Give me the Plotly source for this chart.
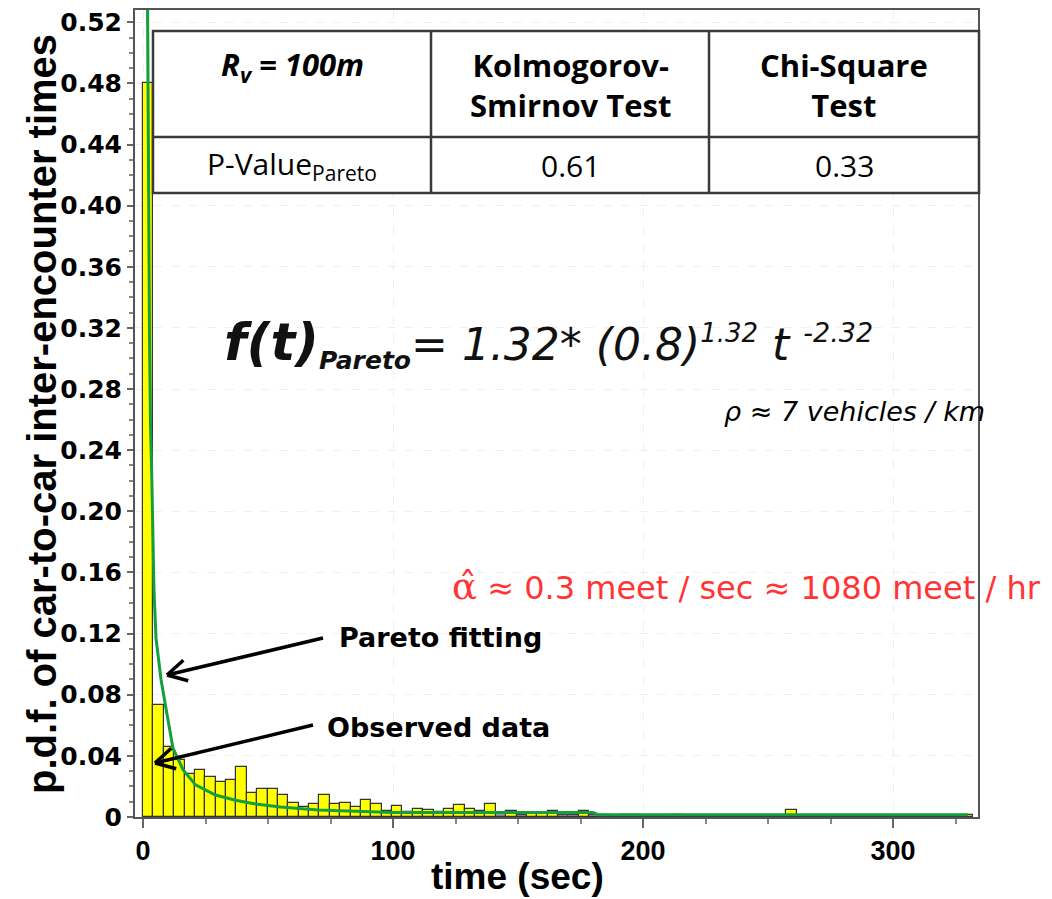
import math
import plotly.graph_objects as go

# ---------------- data ----------------
bin_width = 4.15  # seconds per histogram bin
observed_pdf = [
    0.48, 0.073, 0.046, 0.037, 0.028, 0.031, 0.026, 0.023, 0.024, 0.033,
    0.016, 0.0186, 0.0186, 0.0142, 0.0094, 0.0066, 0.0087, 0.0142, 0.0087, 0.0094,
    0.0066, 0.011, 0.0087, 0.004, 0.007, 0.003, 0.005, 0.0046, 0.0033, 0.005,
    0.0077, 0.005, 0.004, 0.0087, 0.0, 0.004, 0.0, 0.002, 0.002, 0.004,
    0.0, 0.0, 0.004, 0.0, 0.0012, 0.0, 0.0012, 0.0012, 0.0, 0.0,
    0.0, 0.0012, 0.0, 0.0, 0.0, 0.0, 0.0, 0.0, 0.0, 0.0,
    0.0, 0.0, 0.0046, 0.0, 0.0, 0.0, 0.0, 0.0, 0.0, 0.0,
    0.0, 0.0, 0.0, 0.0, 0.0, 0.0, 0.0, 0.0, 0.0, 0.0012,
]
expected_gray = [
    0, 0, 0, 0, 0, 0, 0, 0, 0, 0,
    0, 0, 0, 0, 0, 0, 0, 0, 0, 0,
    0, 0, 0, 0, 0, 0, 0, 0, 0, 0,
    0, 0, 0, 0, 0.002, 0, 0.0015, 0, 0, 0,
    0.0015, 0.0015, 0, 0.0015, 0, 0, 0, 0, 0, 0,
    0, 0, 0, 0, 0, 0, 0, 0, 0, 0,
    0, 0, 0, 0, 0, 0, 0, 0, 0, 0,
    0, 0, 0, 0, 0, 0, 0, 0, 0, 0,
]
fit_t = [1.5, 1.8, 2.2, 2.6, 3.0, 3.6, 4.0, 4.4, 5.2, 7.2, 9.2, 12, 16, 21, 29, 37,
         45, 55, 70, 86, 100, 140, 180, 182, 250, 330]
fit_pdf = [0.62, 0.48, 0.425, 0.313, 0.257, 0.216, 0.177, 0.148, 0.117, 0.090, 0.071,
           0.045, 0.031, 0.021, 0.0144, 0.011, 0.0085, 0.0065, 0.0045, 0.0035, 0.003,
           0.003, 0.003, 0.0015, 0.0015, 0.0015]

y_tick_vals = [0, 0.04, 0.08, 0.12, 0.16, 0.20, 0.24, 0.28, 0.32, 0.36, 0.40, 0.44, 0.48, 0.52]
y_tick_text = ['0', '0.04', '0.08', '0.12', '0.16', '0.20', '0.24', '0.28', '0.32', '0.36',
               '0.40', '0.44', '0.48', '0.52']
x_tick_vals = [0, 100, 200, 300]

table_header = ['<i><b>R<sub>v</sub> = 100m</b></i>', '<b>Kolmogorov-<br>Smirnov Test</b>',
                '<b>Chi-Square<br>Test</b>']
table_row = ['P-Value<sub>Pareto</sub>', '0.61', '0.33']

# ---------------- layout helpers ----------------
# the page adds an 8px body margin, so the figure is drawn 8px smaller and
# all reference-pixel positions are shifted by that amount
OFF = 8
W, H = 1052 - OFF, 899 - OFF
PLOT_L, PLOT_R, PLOT_T, PLOT_B = 135, 978, 10, 817   # reference pixels
L, T = PLOT_L - OFF, PLOT_T - OFF
R, B = W - (PLOT_R - OFF), H - (PLOT_B - OFF)
PW, PH = W - L - R, H - T - B


def px(x):
    return (x - PLOT_L) / PW


def py(y):
    return (PLOT_B - y) / PH


centers = [(k + 0.5) * bin_width for k in range(len(observed_pdf))]

fig = go.Figure()
fig.add_trace(go.Bar(x=centers, y=expected_gray, width=bin_width,
                     marker=dict(color='#9a9a9a', line=dict(color='#444444', width=1)),
                     showlegend=False))
fig.add_trace(go.Bar(x=centers, y=observed_pdf, width=bin_width,
                     marker=dict(color='#ffff00', line=dict(color='#333333', width=1.2)),
                     showlegend=False))
fig.add_trace(go.Scatter(x=fit_t, y=fit_pdf, mode='lines',
                         line=dict(color='#13a03c', width=3), showlegend=False))

shapes = []
ann = []

# table
tl, tr, tt, tb = 153, 979, 31, 193
tmid = 137
c1, c2 = 431, 709
shapes.append(dict(type='rect', xref='paper', yref='paper', x0=px(tl), x1=px(tr),
                   y0=py(tb), y1=py(tt), fillcolor='white',
                   line=dict(color='#3a3a3a', width=2.5), layer='above'))
shapes.append(dict(type='line', xref='paper', yref='paper', x0=px(tl), x1=px(tr),
                   y0=py(tmid), y1=py(tmid), line=dict(color='#3a3a3a', width=2.5)))
for cx in (c1, c2):
    shapes.append(dict(type='line', xref='paper', yref='paper', x0=px(cx), x1=px(cx),
                       y0=py(tt), y1=py(tb), line=dict(color='#3a3a3a', width=2.5)))

col_centers = [(tl + c1) / 2, (c1 + c2) / 2, (c2 + tr) / 2]
for i, txt in enumerate(table_header):
    ann.append(dict(x=px(col_centers[i]), y=py(66 if i == 0 else 85), xref='paper', yref='paper',
                    text=txt, showarrow=False, xanchor='center', yanchor='middle',
                    font=dict(family='Open Sans', size=31, color='black')))
for i, txt in enumerate(table_row):
    ann.append(dict(x=px(col_centers[i]), y=py(165), xref='paper', yref='paper',
                    text=txt, showarrow=False, xanchor='center', yanchor='middle',
                    font=dict(family='Open Sans', size=30, color='black')))

# formula
formula = ('<span style="font-size:52px"><b><i>f(t)</i></b></span>'
           '<sub><span style="font-size:25px"><b><i>Pareto</i></b></span></sub>'
           '<i>= 1.32* (0.8)</i><sup><span style="font-size:26px"><i>1.32</i></span></sup>'
           '<i> t </i><sup><span style="font-size:27px"><i>-2.32</i></span></sup>')
ann.append(dict(x=px(222), y=py(343), xref='paper', yref='paper', text=formula,
                showarrow=False, xanchor='left', yanchor='middle',
                font=dict(family='DejaVu Sans', size=44, color='#111111')))
ann.append(dict(x=px(722), y=py(411), xref='paper', yref='paper',
                text='<i>ρ ≈ 7 vehicles / km</i>', showarrow=False, xanchor='left',
                yanchor='middle', font=dict(family='DejaVu Sans', size=27, color='black')))
ann.append(dict(x=px(450), y=py(586), xref='paper', yref='paper',
                text='<span style="font-family:DejaVu Serif;font-size:37px">α\u0302</span> ≈ 0.3 meet / sec ≈ 1080 meet / hr',
                showarrow=False, xanchor='left', yanchor='middle',
                font=dict(family='DejaVu Sans', size=32, color='#ff3535')))
ann.append(dict(x=px(337), y=py(637), xref='paper', yref='paper', text='<b>Pareto fitting</b>',
                showarrow=False, xanchor='left', yanchor='middle',
                font=dict(family='DejaVu Sans', size=27, color='black')))
ann.append(dict(x=px(325), y=py(727), xref='paper', yref='paper', text='<b>Observed data</b>',
                showarrow=False, xanchor='left', yanchor='middle',
                font=dict(family='DejaVu Sans', size=27, color='black')))

# axis titles
ann.append(dict(x=px(42), y=py(414), xref='paper', yref='paper', textangle=-90,
                text='<b>p.d.f. of car-to-car inter-encounter times</b>', showarrow=False,
                xanchor='center', yanchor='middle',
                font=dict(family='Liberation Sans', size=40, color='black')))
ann.append(dict(x=px(517), y=py(876), xref='paper', yref='paper',
                text='<b>time (sec)</b>', showarrow=False, xanchor='center', yanchor='middle',
                font=dict(family='Liberation Sans', size=37, color='black')))


def arrow(x0, y0, x1, y1):
    shapes.append(dict(type='line', xref='paper', yref='paper', x0=px(x0), y0=py(y0),
                       x1=px(x1), y1=py(y1), line=dict(color='black', width=3.5)))
    ang = math.atan2(y0 - y1, x0 - x1)
    for d in (0.5, -0.5):
        hx = x1 + 22 * math.cos(ang + d)
        hy = y1 + 22 * math.sin(ang + d)
        shapes.append(dict(type='line', xref='paper', yref='paper', x0=px(x1), y0=py(y1),
                           x1=px(hx), y1=py(hy), line=dict(color='black', width=3.5)))


arrow(323, 638, 167, 675)
arrow(313, 725, 155, 763)

fig.update_layout(
    width=W, height=H, margin=dict(l=L, r=R, t=T, b=B, autoexpand=False),
    paper_bgcolor='white', plot_bgcolor='white',
    barmode='overlay', bargap=0,
    shapes=shapes, annotations=ann, showlegend=False,
    xaxis=dict(range=[-3.2, 334], tickvals=x_tick_vals, ticks='outside', ticklen=9,
               tickcolor='#666666', tickwidth=1.5, automargin=False, ticklabeloverflow='allow',
               minor=dict(dtick=25, ticklen=5, ticks='outside', tickcolor='#888888', showgrid=False),
               showline=True, mirror=True, linecolor='#555555', linewidth=2,
               showgrid=True, gridcolor='#f0f0f0', griddash='dash', zeroline=False,
               tickfont=dict(family='Liberation Sans', size=27, color='black', weight='bold')),
    yaxis=dict(range=[0, 0.528], tickvals=y_tick_vals, ticktext=y_tick_text, ticks='outside',
               ticklen=6, tickcolor='#666666', tickwidth=1.5, automargin=False,
               ticklabeloverflow='allow',
               minor=dict(dtick=0.01, ticklen=4, ticks='outside', tickcolor='#888888', showgrid=False),
               showline=True, mirror=True, linecolor='#555555', linewidth=2,
               showgrid=True, gridcolor='#f0f0f0', griddash='dash', zeroline=False,
               tickfont=dict(family='DejaVu Sans', size=25, color='black', weight='bold')),
)

fig.write_html('out.html')
